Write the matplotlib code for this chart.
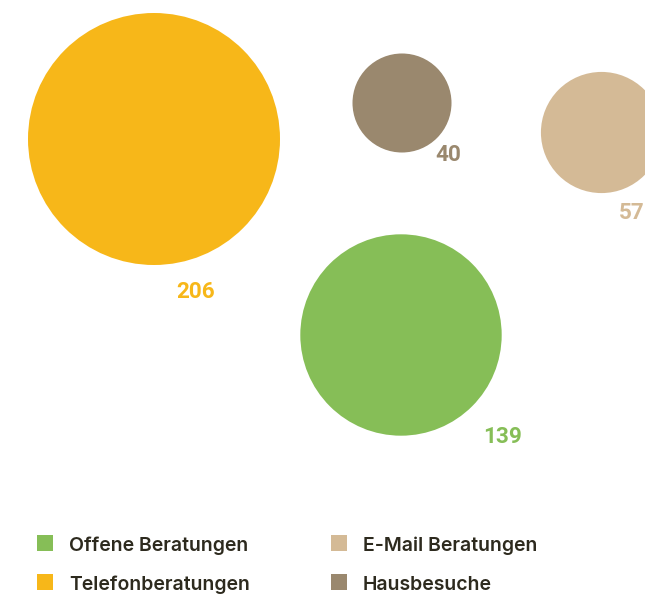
import numpy as np
import matplotlib
matplotlib.use("Agg")
import matplotlib.pyplot as plt
from matplotlib.patches import Circle, Rectangle

# ---- data ----
categories = ["Offene Beratungen", "Telefonberatungen", "E-Mail Beratungen", "Hausbesuche"]
values = [139, 206, 57, 40]

# ---- styles / layout (pixel space of the 645x594 canvas) ----
colors = ["#86BE57", "#F7B719", "#D4BA96", "#9A886E"]
centers = [(401, 335), (154, 139), (601.5, 132.5), (402, 103)]
label_offsets = [(82, 108), (22, 159), (17.5, 86.5), (33, 58)]
R_MAX, POWER = 126.0, 0.57
text_color = "#2D2A1E"
FONT = ["Roboto", "DejaVu Sans"]
LEG_FONT = ["Inter", "DejaVu Sans"]

W, H = 645, 594
fig = plt.figure(figsize=(W / 100, H / 100), dpi=100)
ax = fig.add_axes([0, 0, 1, 1])
ax.set_xlim(0, W)
ax.set_ylim(H, 0)
ax.axis("off")

vmax = max(values)
for v, c, (cx, cy), (dx, dy) in zip(values, colors, centers, label_offsets):
    r = R_MAX * (v / vmax) ** POWER
    ax.add_patch(Circle((cx, cy), r, facecolor=c, edgecolor="none"))
    ax.text(cx + dx, cy + dy, str(v), color=c, fontsize=16.2, fontweight="bold",
            family=FONT, ha="left", va="baseline")

# legend (2 columns)
leg_pos = [(37, 535), (37, 574), (331, 535), (331, 574)]
for (lx, ly), c, name in zip(leg_pos, colors, categories):
    ax.add_patch(Rectangle((lx, ly), 16, 16, facecolor=c, edgecolor="none"))
    ax.text(lx + 32, ly + 16, name, color=text_color, fontsize=14, fontweight="semibold",
            family=LEG_FONT, ha="left", va="baseline")

fig.savefig("out.png", dpi=100)
